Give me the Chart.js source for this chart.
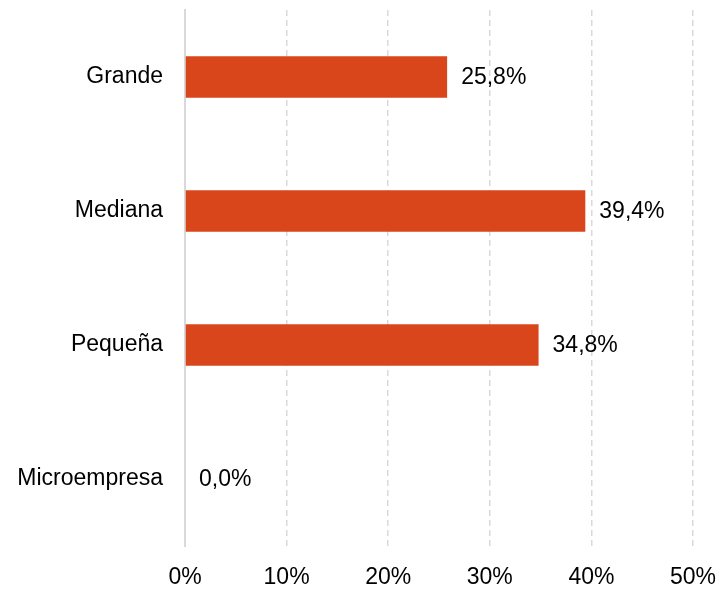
<!DOCTYPE html>
<html>
<head>
<meta charset="utf-8">
<script src="https://cdn.jsdelivr.net/npm/chart.js@4/dist/chart.umd.min.js"></script>
<style>
  html, body { margin:0; padding:0; background:#fff; }
  #wrap { width:721px; height:592px; position:relative; }
</style>
</head>
<body>
<div id="wrap"><canvas id="chart"></canvas></div>
<script>
// datos
const categorias = ["Grande", "Mediana", "Pequeña", "Microempresa"];
const valores = [25.8, 39.4, 34.8, 0.0];
const ticksX = [0, 10, 20, 30, 40, 50];

const colorBarra = "#D9461C";
const colorRejilla = "#D9D9D9";
const fuente = "'Liberation Sans', Arial, sans-serif";

// etiquetas de valor al final de cada barra
const etiquetas = {
  id: "etiquetas",
  afterDatasetsDraw(chart){
    const ctx = chart.ctx;
    const meta = chart.getDatasetMeta(0);
    ctx.save();
    ctx.font = "23px " + fuente;
    ctx.fillStyle = "#000";
    ctx.textAlign = "left";
    ctx.textBaseline = "middle";
    meta.data.forEach((bar, i) => {
      const txt = valores[i].toFixed(1).replace(".", ",") + "%";
      ctx.fillText(txt, bar.x + 14, bar.y + 1);
    });
    ctx.restore();
  }
};

// sin relleno automático de las escalas
function sinRelleno(s){
  s.paddingTop = 0; s.paddingBottom = 0;
  s.paddingLeft = 0; s.paddingRight = 0;
}

new Chart(document.getElementById("chart"), {
  type: "bar",
  data: {
    labels: categorias,
    datasets: [{
      data: valores,
      backgroundColor: colorBarra,
      borderWidth: 0,
      barPercentage: 0.31,
      categoryPercentage: 1
    }]
  },
  options: {
    indexAxis: "y",
    responsive: true,
    maintainAspectRatio: false,
    animation: false,
    layout: { padding: { top: 10, right: 28, left: 15, bottom: 0 } },
    plugins: {
      legend: { display: false },
      tooltip: { enabled: false }
    },
    scales: {
      x: {
        min: 0,
        max: 50,
        afterBuildTicks: (s) => { s.ticks = ticksX.map(v => ({ value: v })); },
        afterFit: (s) => { sinRelleno(s); s.height = 46; },
        ticks: {
          callback: (v) => v + "%",
          color: "#000",
          font: { family: fuente, size: 23 },
          padding: 18,
          maxRotation: 0
        },
        grid: {
          color: (c) => c.tick && c.tick.value === 0 ? "rgba(0,0,0,0)" : colorRejilla,
          lineWidth: 1.5,
          drawTicks: false
        },
        border: { display: false, dash: [6, 4] }
      },
      y: {
        afterFit: (s) => { sinRelleno(s); s.width = 170; },
        ticks: {
          color: "#000",
          font: { family: fuente, size: 23 },
          padding: 22
        },
        grid: { display: false, drawTicks: false },
        border: { display: true, color: colorRejilla, width: 2 }
      }
    }
  },
  plugins: [etiquetas]
});
</script>
</body>
</html>
